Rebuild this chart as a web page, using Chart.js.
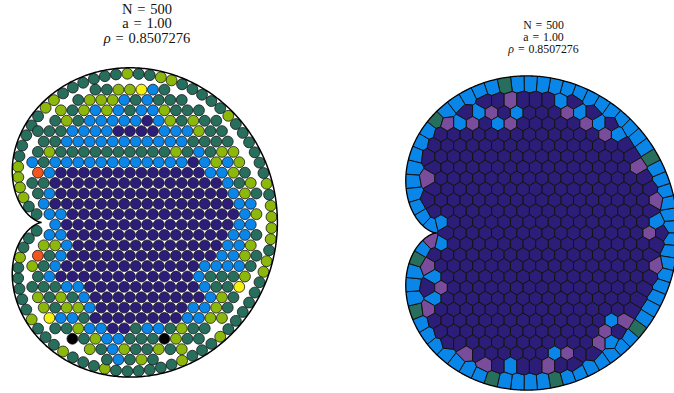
<!DOCTYPE html>
<html lang="en">
<head>
<meta charset="utf-8">
<title>Discs in a cardioid: packing and Voronoi cells</title>
<script src="https://cdn.jsdelivr.net/npm/chart.js@4.4.1/dist/chart.umd.min.js"></script>
<style>
  html, body { margin: 0; padding: 0; background: #fff; }
  body { width: 674px; height: 393px; position: relative; overflow: hidden; }
  canvas { position: absolute; top: 0; }
  #packing { left: 0; }
  #cells { left: 337px; }
  .head { position: absolute; text-align: center; color: #111; white-space: pre;
          font-family: "Liberation Serif", "Times New Roman", serif; }
  .head div { height: 1em; }
  #headL { left: 47px; width: 200px; top: 1.75px; font-size: 14.5px; line-height: 14.7px; }
  #headR { left: 443.5px; width: 200px; top: 19.3px; font-size: 11.8px; line-height: 12px; }
  .head div { height: auto; }
</style>
</head>
<body>
<div class="head" id="headL"></div>
<div class="head" id="headR"></div>
<canvas id="packing" width="300" height="393"></canvas>
<canvas id="cells" width="337" height="393"></canvas>
<script>
// ---- system parameters ----
const N = 500;
const a = 1.00;
const rho = 0.8507276;

// neighbour count -> colour
const nbColours = ['#000000', '#f2561d', '#f4f00f', '#8cb80c', '#276e5d', '#0a86e8', '#2c1d79', '#7a4c9c'];

// ---- left: disc packing ----
// discs against the wall, by polar angle (deg) on the cardioid, and their neighbour counts
const wallAngleL = [
  1.4, 4.2, 7.0, 9.8, 12.6, 15.4, 18.3, 21.2, 24.1, 27.0, 29.9, 32.8, 35.8, 38.8, 41.8, 44.9, 48.0, 51.1, 54.3, 57.5,
  60.8, 64.2, 67.6, 71.1, 74.7, 78.4, 82.2, 86.1, 90.1, 94.3, 98.6, 103.1, 107.8, 112.7, 117.9, 123.4, 129.4, 136.5, 145.0, 157.5,
  -1.4, -4.2, -7.0, -9.8, -12.6, -15.4, -18.3, -21.2, -24.1, -27.0, -29.9, -32.8, -35.8, -38.8, -41.8, -44.9, -48.0, -51.1, -54.3, -57.5,
  -60.8, -64.2, -67.6, -71.1, -74.7, -78.4, -82.2, -86.1, -90.1, -94.3, -98.6, -103.1, -107.8, -112.7, -117.9, -123.4, -129.4, -136.5, -145.0, -157.5
];
const wallNbL = '3343444444' + '3444443344' + '3444444334' + '4444333344' +
                '3343344444' + '4344434444' + '4434443444' + '3444443444';

// inner discs, row by row: row height, disc x positions, neighbour counts
const rowYL = [12.46, 11.49, 10.52, 9.54, 8.57, 7.59, 6.62, 5.65, 4.67, 3.70, 2.72, 1.75, 0.78, -0.20,
  -1.17, -2.15, -3.12, -4.09, -5.07, -6.04, -7.02, -7.99, -8.96, -9.94, -10.91, -11.89, -12.86];
const rowXL = [
  [5.09, 6.18, 7.27, 8.36, 9.45, 10.54, 11.63],
  [3.46, 4.55, 5.64, 6.73, 7.82, 8.91, 10.00, 11.09, 12.18, 13.27],
  [1.82, 2.91, 4.00, 5.09, 6.18, 7.27, 8.36, 9.45, 10.54, 11.63, 12.72, 13.81, 14.90],
  [1.28, 2.37, 3.46, 4.55, 5.64, 6.73, 7.82, 8.91, 10.00, 11.09, 12.18, 13.27, 14.36, 15.45, 16.54],
  [-0.36, 0.73, 1.82, 2.91, 4.00, 5.09, 6.18, 7.27, 8.36, 9.45, 10.54, 11.63, 12.72, 13.81, 14.90, 15.99, 17.08],
  [0.19, 1.28, 2.37, 3.46, 4.55, 5.64, 6.73, 7.82, 8.91, 10.00, 11.09, 12.18, 13.27, 14.36, 15.45, 16.54, 17.63],
  [-0.36, 0.73, 1.82, 2.91, 4.00, 5.09, 6.18, 7.27, 8.36, 9.45, 10.54, 11.63, 12.72, 13.81, 14.90, 15.99, 17.08, 18.17],
  [-0.90, 0.19, 1.28, 2.37, 3.46, 4.55, 5.64, 6.73, 7.82, 8.91, 10.00, 11.09, 12.18, 13.27, 14.36, 15.45, 16.54, 17.63, 18.72],
  [-0.36, 0.73, 1.82, 2.91, 4.00, 5.09, 6.18, 7.27, 8.36, 9.45, 10.54, 11.63, 12.72, 13.81, 14.90, 15.99, 17.08, 18.17, 19.26],
  [-0.90, 0.19, 1.28, 2.37, 3.46, 4.55, 5.64, 6.73, 7.82, 8.91, 10.00, 11.09, 12.18, 13.27, 14.36, 15.45, 16.54, 17.63, 18.72, 19.81],
  [-0.36, 0.73, 1.82, 2.91, 4.00, 5.09, 6.18, 7.27, 8.36, 9.45, 10.54, 11.63, 12.72, 13.81, 14.90, 15.99, 17.08, 18.17, 19.26, 20.35],
  [0.19, 1.28, 2.37, 3.46, 4.55, 5.64, 6.73, 7.82, 8.91, 10.00, 11.09, 12.18, 13.27, 14.36, 15.45, 16.54, 17.63, 18.72, 19.81],
  [0.73, 1.82, 2.91, 4.00, 5.09, 6.18, 7.27, 8.36, 9.45, 10.54, 11.63, 12.72, 13.81, 14.90, 15.99, 17.08, 18.17, 19.26, 20.35],
  [1.28, 2.37, 3.46, 4.55, 5.64, 6.73, 7.82, 8.91, 10.00, 11.09, 12.18, 13.27, 14.36, 15.45, 16.54, 17.63, 18.72, 19.81],
  [0.73, 1.82, 2.91, 4.00, 5.09, 6.18, 7.27, 8.36, 9.45, 10.54, 11.63, 12.72, 13.81, 14.90, 15.99, 17.08, 18.17, 19.26, 20.35],
  [0.19, 1.28, 2.37, 3.46, 4.55, 5.64, 6.73, 7.82, 8.91, 10.00, 11.09, 12.18, 13.27, 14.36, 15.45, 16.54, 17.63, 18.72, 19.81],
  [-0.36, 0.73, 1.82, 2.91, 4.00, 5.09, 6.18, 7.27, 8.36, 9.45, 10.54, 11.63, 12.72, 13.81, 14.90, 15.99, 17.08, 18.17, 19.26, 20.35],
  [-0.90, 0.19, 1.28, 2.37, 3.46, 4.55, 5.64, 6.73, 7.82, 8.91, 10.00, 11.09, 12.18, 13.27, 14.36, 15.45, 16.54, 17.63, 18.72, 19.81],
  [-0.36, 0.73, 1.82, 2.91, 4.00, 5.09, 6.18, 7.27, 8.36, 9.45, 10.54, 11.63, 12.72, 13.81, 14.90, 15.99, 17.08, 18.17, 19.26],
  [-0.90, 0.19, 1.28, 2.37, 3.46, 4.55, 5.64, 6.73, 7.82, 8.91, 10.00, 11.09, 12.18, 13.27, 14.36, 15.45, 16.54, 17.63, 18.72],
  [-0.36, 0.73, 1.82, 2.91, 4.00, 5.09, 6.18, 7.27, 8.36, 9.45, 10.54, 11.63, 12.72, 13.81, 14.90, 15.99, 17.08, 18.17],
  [0.19, 1.28, 2.37, 3.46, 4.55, 5.64, 6.73, 7.82, 8.91, 10.00, 11.09, 12.18, 13.27, 14.36, 15.45, 16.54, 17.63],
  [0.73, 1.82, 2.91, 4.00, 5.09, 6.18, 7.27, 8.36, 9.45, 10.54, 11.63, 12.72, 13.81, 14.90, 15.99, 17.08],
  [1.28, 2.37, 3.46, 4.55, 5.64, 6.73, 7.82, 8.91, 10.00, 11.09, 12.18, 13.27, 14.36, 15.45],
  [2.91, 4.00, 5.09, 6.18, 7.27, 8.36, 9.45, 10.54, 11.63, 12.72, 13.81, 14.90],
  [4.55, 5.64, 6.73, 7.82, 8.91, 10.00, 11.09, 12.18, 13.27],
  [6.18, 7.27, 8.36, 9.45, 10.54]
];
const rowNbL = [
  '4433254',
  '4333545444',
  '3435354553444',
  '434555556534344',
  '44455556666555344',
  '44555555555554444',
  '434444444444345433',
  '5455555555555565353',
  '1566666666666665534',
  '44666666666666666543',
  '45666666666666666534',
  '5666666666666666655',
  '5566666666666666653',
  '566666666666666655',
  '5566666666666666554',
  '3356666666666666553',
  '14566666666666665534',
  '34566666666666655554',
  '4566666666666654443',
  '4445566666666665442',
  '343456666666666534',
  '34335666666665534',
  '2554666666665533',
  '44355664554344',
  '043554440344',
  '345344343',
  '45434'
];

// ---- right: Voronoi tessellation ----
const wallAngleR = [
  1.5, 4.5, 7.5, 10.5, 13.5, 16.5, 19.6, 22.7, 25.8, 28.9, 32.0, 35.2, 38.4, 41.7, 45.0, 48.4, 51.8, 55.3,
  58.9, 62.6, 66.4, 70.3, 74.3, 78.5, 82.8, 87.3, 92.0, 97.0, 102.2, 107.8, 113.8, 120.4, 127.6, 135.8, 145.5, 158.0,
  -1.5, -4.5, -7.5, -10.5, -13.5, -16.5, -19.6, -22.7, -25.8, -28.9, -32.0, -35.2, -38.4, -41.7, -45.0, -48.4, -51.8, -55.3,
  -58.9, -62.6, -66.4, -70.3, -74.3, -78.5, -82.8, -87.3, -92.0, -97.0, -102.2, -107.8, -113.8, -120.4, -127.6, -135.8, -145.5, -158.0
];
const wallNbR = '555555455555555555554555554555555555' +
                '555555554555555545555455555554555457';

const rowYR = [12.11, 11.10, 10.09, 9.08, 8.07, 7.06, 6.05, 5.05, 4.04, 3.03, 2.02, 1.01, 0.00,
  -1.01, -2.02, -3.03, -4.04, -5.05, -6.05, -7.06, -8.07, -9.08, -10.09, -11.10, -12.11];
const rowXR = [
  [4.55, 5.71, 6.88, 8.04, 9.21, 10.37, 11.54, 12.70],
  [2.80, 3.96, 5.13, 6.29, 7.46, 8.62, 9.79, 10.95, 12.12, 13.28, 14.45],
  [1.05, 2.22, 3.38, 4.55, 5.71, 6.88, 8.04, 9.21, 10.37, 11.54, 12.70, 13.87, 15.03, 16.20],
  [0.47, 1.63, 2.80, 3.96, 5.13, 6.29, 7.46, 8.62, 9.79, 10.95, 12.12, 13.28, 14.45, 15.61, 16.78],
  [-0.12, 1.05, 2.22, 3.38, 4.55, 5.71, 6.88, 8.04, 9.21, 10.37, 11.54, 12.70, 13.87, 15.03, 16.20, 17.36],
  [-0.70, 0.47, 1.63, 2.80, 3.96, 5.13, 6.29, 7.46, 8.62, 9.79, 10.95, 12.12, 13.28, 14.45, 15.61, 16.78, 17.94],
  [-0.12, 1.05, 2.22, 3.38, 4.55, 5.71, 6.88, 8.04, 9.21, 10.37, 11.54, 12.70, 13.87, 15.03, 16.20, 17.36, 18.53],
  [-0.70, 0.47, 1.63, 2.80, 3.96, 5.13, 6.29, 7.46, 8.62, 9.79, 10.95, 12.12, 13.28, 14.45, 15.61, 16.78, 17.94, 19.11],
  [-0.12, 1.05, 2.22, 3.38, 4.55, 5.71, 6.88, 8.04, 9.21, 10.37, 11.54, 12.70, 13.87, 15.03, 16.20, 17.36, 18.53, 19.69],
  [-0.70, 0.47, 1.63, 2.80, 3.96, 5.13, 6.29, 7.46, 8.62, 9.79, 10.95, 12.12, 13.28, 14.45, 15.61, 16.78, 17.94, 19.11, 20.27],
  [-0.12, 1.05, 2.22, 3.38, 4.55, 5.71, 6.88, 8.04, 9.21, 10.37, 11.54, 12.70, 13.87, 15.03, 16.20, 17.36, 18.53, 19.69],
  [0.47, 1.63, 2.80, 3.96, 5.13, 6.29, 7.46, 8.62, 9.79, 10.95, 12.12, 13.28, 14.45, 15.61, 16.78, 17.94, 19.11, 20.27],
  [1.05, 2.22, 3.38, 4.55, 5.71, 6.88, 8.04, 9.21, 10.37, 11.54, 12.70, 13.87, 15.03, 16.20, 17.36, 18.53, 19.69, 20.86],
  [0.47, 1.63, 2.80, 3.96, 5.13, 6.29, 7.46, 8.62, 9.79, 10.95, 12.12, 13.28, 14.45, 15.61, 16.78, 17.94, 19.11, 20.27],
  [-0.12, 1.05, 2.22, 3.38, 4.55, 5.71, 6.88, 8.04, 9.21, 10.37, 11.54, 12.70, 13.87, 15.03, 16.20, 17.36, 18.53, 19.69],
  [-0.70, 0.47, 1.63, 2.80, 3.96, 5.13, 6.29, 7.46, 8.62, 9.79, 10.95, 12.12, 13.28, 14.45, 15.61, 16.78, 17.94, 19.11, 20.27],
  [-0.12, 1.05, 2.22, 3.38, 4.55, 5.71, 6.88, 8.04, 9.21, 10.37, 11.54, 12.70, 13.87, 15.03, 16.20, 17.36, 18.53, 19.69],
  [-0.70, 0.47, 1.63, 2.80, 3.96, 5.13, 6.29, 7.46, 8.62, 9.79, 10.95, 12.12, 13.28, 14.45, 15.61, 16.78, 17.94, 19.11],
  [-0.12, 1.05, 2.22, 3.38, 4.55, 5.71, 6.88, 8.04, 9.21, 10.37, 11.54, 12.70, 13.87, 15.03, 16.20, 17.36, 18.53],
  [-0.70, 0.47, 1.63, 2.80, 3.96, 5.13, 6.29, 7.46, 8.62, 9.79, 10.95, 12.12, 13.28, 14.45, 15.61, 16.78, 17.94],
  [-0.12, 1.05, 2.22, 3.38, 4.55, 5.71, 6.88, 8.04, 9.21, 10.37, 11.54, 12.70, 13.87, 15.03, 16.20, 17.36],
  [0.47, 1.63, 2.80, 3.96, 5.13, 6.29, 7.46, 8.62, 9.79, 10.95, 12.12, 13.28, 14.45, 15.61, 16.78],
  [1.05, 2.22, 3.38, 4.55, 5.71, 6.88, 8.04, 9.21, 10.37, 11.54, 12.70, 13.87, 15.03, 16.20],
  [2.80, 3.96, 5.13, 6.29, 7.46, 8.62, 9.79, 10.95, 12.12, 13.28, 14.45],
  [4.55, 5.71, 6.88, 8.04, 9.21, 10.37, 11.54, 12.70]
];
const rowNbR = [
  '66766656',
  '65765666756',
  '75765766666756',
  '666666666666675',
  '6666666666666666',
  '66666666666666666',
  '66666666666666667',
  '766666666666666666',
  '666666666666666666',
  '6666666666666666667',
  '666666666666666666',
  '566666666666666665',
  '666666666666666676',
  '566666666666666666',
  '666666666666666666',
  '7666666666666666667',
  '566666666666666666',
  '676666666666666666',
  '56666666666666666',
  '76666666666666666',
  '6666666666666657',
  '666666666666676',
  '66666666666675',
  '76666665766',
  '76566766'
];

// ---- geometry: cardioid r = A (1 + cos t), cusp at the origin ----
const A = Math.sqrt(N / (1.5 * Math.PI * rho));

function wallPoint(deg, inset) {
  const t = deg * Math.PI / 180;
  const r = A * (1 + Math.cos(t));
  // outward normal of the cardioid points along 3t/2
  return { x: r * Math.cos(t) - inset * Math.cos(1.5 * t),
           y: r * Math.sin(t) - inset * Math.sin(1.5 * t) };
}

function traceCardioid(ctx, sx, sy) {
  ctx.beginPath();
  for (let i = 0; i <= 720; i++) {
    const t = i * Math.PI / 360;
    const r = A * (1 + Math.cos(t));
    const px = sx.getPixelForValue(r * Math.cos(t));
    const py = sy.getPixelForValue(r * Math.sin(t));
    if (i === 0) ctx.moveTo(px, py); else ctx.lineTo(px, py);
  }
  ctx.closePath();
}

function collect(wallAngles, wallNb, inset, rowsY, rowsX, rowsNb) {
  const pts = [], nb = [];
  wallAngles.forEach((d, i) => { pts.push(wallPoint(d, inset)); nb.push(+(wallNb[i] || 5)); });
  rowsY.forEach((y, r) => rowsX[r].forEach((x, i) => { pts.push({ x, y }); nb.push(+(rowsNb[r][i] || 6)); }));
  return { pts, nb };
}

const left = collect(wallAngleL, wallNbL, 0.55, rowYL, rowXL, rowNbL);
const right = collect(wallAngleR, wallNbR, 0.58, rowYR, rowXR, rowNbR);

// ---- Voronoi cells by half-plane clipping ----
function clipHalf(poly, nx, ny, c) {
  const out = [];
  for (let i = 0; i < poly.length; i++) {
    const p = poly[i], q = poly[(i + 1) % poly.length];
    const dp = nx * p.x + ny * p.y - c, dq = nx * q.x + ny * q.y - c;
    if (dp <= 0) out.push(p);
    if ((dp < 0 && dq > 0) || (dp > 0 && dq < 0)) {
      const t = dp / (dp - dq);
      out.push({ x: p.x + t * (q.x - p.x), y: p.y + t * (q.y - p.y) });
    }
  }
  return out;
}

function voronoi(pts, reach) {
  return pts.map((p, i) => {
    let poly = [{ x: p.x - reach, y: p.y - reach }, { x: p.x + reach, y: p.y - reach },
                { x: p.x + reach, y: p.y + reach }, { x: p.x - reach, y: p.y + reach }];
    for (let j = 0; j < pts.length && poly.length; j++) {
      if (j === i) continue;
      const q = pts[j], nx = q.x - p.x, ny = q.y - p.y;
      if (nx * nx + ny * ny > 4 * reach * reach) continue;
      poly = clipHalf(poly, nx, ny, (nx * (p.x + q.x) + ny * (p.y + q.y)) / 2);
    }
    return poly;
  });
}
const cellPolys = voronoi(right.pts, 3);

// ---- plugins ----
const outline = {
  id: 'outline',
  afterDatasetsDraw(chart, args, opts) {
    const { ctx, scales: { x, y } } = chart;
    ctx.save();
    traceCardioid(ctx, x, y);
    ctx.lineWidth = opts.width || 1.4;
    ctx.strokeStyle = '#000';
    ctx.stroke();
    ctx.restore();
  }
};

const tessellation = {
  id: 'tessellation',
  beforeDatasetsDraw(chart) {
    const { ctx, scales: { x, y } } = chart;
    ctx.save();
    traceCardioid(ctx, x, y);
    ctx.clip();
    ctx.lineJoin = 'round';
    cellPolys.forEach((poly, i) => {
      if (poly.length < 3) return;
      ctx.beginPath();
      poly.forEach((v, k) => {
        const px = x.getPixelForValue(v.x), py = y.getPixelForValue(v.y);
        if (k === 0) ctx.moveTo(px, py); else ctx.lineTo(px, py);
      });
      ctx.closePath();
      ctx.fillStyle = nbColours[right.nb[i]];
      ctx.fill();
      ctx.lineWidth = 1;
      ctx.strokeStyle = '#141414';
      ctx.stroke();
    });
    ctx.restore();
  }
};

const baseOptions = (xr, yr, outlineWidth) => ({
  responsive: false,
  animation: false,
  devicePixelRatio: 1,
  events: [],
  layout: { padding: 0 },
  plugins: { legend: { display: false }, tooltip: { enabled: false }, outline: { width: outlineWidth } },
  scales: {
    x: { type: 'linear', min: xr[0], max: xr[1], display: false },
    y: { type: 'linear', min: yr[0], max: yr[1], display: false }
  }
});

new Chart(document.getElementById('packing'), {
  type: 'scatter',
  data: { datasets: [{
    data: left.pts,
    pointRadius: 5.45,
    pointHoverRadius: 5.45,
    pointBorderWidth: 0.8,
    pointBorderColor: '#151515',
    pointBackgroundColor: left.nb.map(k => nbColours[k])
  }] },
  options: baseOptions([-3.3606, 23.887], [-15.4133, 20.2816], 1.5),
  plugins: [outline]
});

new Chart(document.getElementById('cells'), {
  type: 'scatter',
  data: { datasets: [{ data: right.pts, pointRadius: 0, pointHoverRadius: 0 }] },
  options: baseOptions([-9.1413, 21.976], [-14.7738, 21.5143], 1.3),
  plugins: [tessellation, outline]
});

// ---- headings: N, a and rho, one per line ----
function writeHeading(el) {
  const lines = [
    ['N', String(N)],
    ['a', a.toFixed(2)],
    ['\u03c1', String(rho)]
  ];
  lines.forEach(([sym, val]) => {
    const line = document.createElement('div');
    const s = document.createElement('span');
    s.textContent = sym;
    if (sym === '\u03c1') s.style.fontStyle = 'italic';
    line.appendChild(s);
    line.appendChild(document.createTextNode('\u2004=\u2004' + val));
    el.appendChild(line);
  });
}
writeHeading(document.getElementById('headL'));
writeHeading(document.getElementById('headR'));
</script>
</body>
</html>
